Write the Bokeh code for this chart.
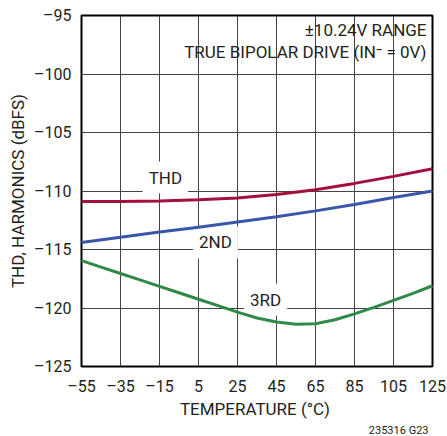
from bokeh.plotting import figure
from bokeh.models import FixedTicker, Label, Title
from bokeh.embed import file_html
from bokeh.resources import INLINE

# ---- data ----
x_ticks = [-55, -35, -15, 5, 25, 45, 65, 85, 105, 125]
y_ticks = [-125, -120, -115, -110, -105, -100, -95]

temp_thd = [-55, -35, -15, 5, 25, 45, 65, 85, 105, 125]
thd = [-110.9, -110.9, -110.85, -110.75, -110.6, -110.3, -109.9, -109.35, -108.75, -108.1]

temp_2nd = [-55, -35, -15, 5, 25, 45, 65, 85, 105, 125]
second = [-114.4, -113.95, -113.5, -113.1, -112.65, -112.2, -111.7, -111.15, -110.55, -110.0]

temp_3rd = [-55, -45, -35, -25, -15, -5, 5, 15, 25, 35, 45, 55, 65, 75, 85, 95, 105, 115, 125]
third = [-115.95, -116.5, -117.05, -117.6, -118.15, -118.7, -119.25, -119.8, -120.35, -120.85,
         -121.2, -121.38, -121.35, -121.0, -120.5, -119.95, -119.35, -118.75, -118.1]

series_names = ["THD", "2ND", "3RD"]
series_colors = ["#A3103C", "#3B56A8", "#2F8A47"]

FONT = "Roboto"
TXT = "#231F20"

def dash(v):
    return str(v).replace("-", "\u2013")

p = figure(width=447, height=436, output_backend="svg", toolbar_location=None,
           x_range=(-55, 125), y_range=(-125, -95),
           min_border_left=81, min_border_right=15, min_border_top=15, min_border_bottom=70)
p.background_fill_color = "white"
p.border_fill_color = "white"
p.outline_line_color = "black"
p.outline_line_width = 2

p.xaxis.ticker = FixedTicker(ticks=x_ticks)
p.yaxis.ticker = FixedTicker(ticks=y_ticks)
p.xaxis.major_label_overrides = {t: dash(t) for t in x_ticks}
p.yaxis.major_label_overrides = {t: dash(t) for t in y_ticks}

for ax in (p.xaxis[0], p.yaxis[0]):
    ax.axis_line_color = None
    ax.major_tick_line_color = None
    ax.minor_tick_line_color = None
    ax.major_tick_out = 0
    ax.major_tick_in = 0
    ax.major_label_text_font = FONT
    ax.major_label_text_font_size = "16px"
    ax.major_label_text_color = TXT
    ax.axis_label_text_font = FONT
    ax.axis_label_text_font_size = "17px"
    ax.axis_label_text_font_style = "normal"
    ax.axis_label_text_color = TXT

p.xaxis.axis_label = "TEMPERATURE  (\u00b0C)"
p.yaxis.axis_label = "THD, HARMONICS (dBFS)"
p.xaxis.major_label_standoff = 10
p.yaxis.major_label_standoff = 10
p.xaxis.axis_label_standoff = 0
p.yaxis.axis_label_standoff = 3

p.grid.grid_line_color = "#444444"
p.grid.grid_line_width = 1
p.xgrid.ticker = FixedTicker(ticks=x_ticks)
p.ygrid.ticker = FixedTicker(ticks=y_ticks)

label_pos = [(-12, -108.85), (13.7, -114.4), (39.4, -119.3)]
for name, (lx, ly) in zip(series_names, label_pos):
    p.add_layout(Label(x=lx, y=ly, text=name, text_align="center", text_baseline="middle",
                       text_font=FONT, text_font_size="17px", text_color=TXT,
                       background_fill_color="white", background_fill_alpha=1.0,
                       padding=6))

p.line(temp_thd, thd, line_color=series_colors[0], line_width=3, level="overlay")
p.line(temp_2nd, second, line_color=series_colors[1], line_width=3, level="overlay")
p.line(temp_3rd, third, line_color=series_colors[2], line_width=3, level="overlay")

p.add_layout(Label(x=125, y=-96.28, x_offset=-6, text="\u00b110.24V RANGE", text_align="right",
                   text_baseline="middle", text_font=FONT, text_font_size="17px", text_color=TXT))
p.add_layout(Label(x=125, y=-98.08, x_offset=-6, text="TRUE BIPOLAR DRIVE (IN\u207b = 0V)",
                   text_align="right", text_baseline="middle", text_font=FONT,
                   text_font_size="17px", text_color=TXT))

p.add_layout(Title(text="235316 G23", align="right", offset=4, standoff=0,
                   text_font=FONT, text_font_size="11px", text_font_style="normal",
                   text_color=TXT), "below")

open("out.html", "w").write(file_html(p, INLINE))
